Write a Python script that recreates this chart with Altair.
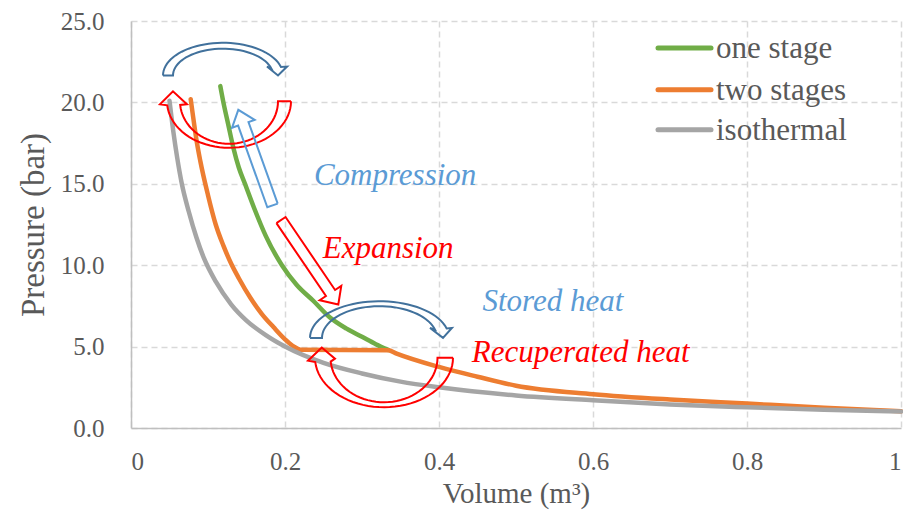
import altair as alt
import pandas as pd
import numpy as np

# ---------------- data ----------------
iso_v = [0.05, 0.055, 0.06, 0.066, 0.075, 0.085, 0.095, 0.11, 0.13, 0.15, 0.175, 0.2,
         0.25, 0.3, 0.35, 0.4, 0.5, 0.6, 0.7, 0.8, 0.9, 1.0]
iso_p = [20.1, 18.2, 16.6, 15.0, 13.3, 11.7, 10.4, 9.0, 7.6, 6.6, 5.7, 5.0,
         4.0, 3.35, 2.85, 2.5, 2.0, 1.7, 1.45, 1.27, 1.12, 1.02]

one_v = [0.116, 0.12, 0.126, 0.133, 0.14, 0.148, 0.16, 0.175, 0.196, 0.215, 0.237,
         0.258, 0.28, 0.3, 0.318, 0.334]
one_p = [21.0, 20.0, 18.7, 17.2, 16.0, 15.0, 13.5, 11.8, 10.0, 8.8, 7.8,
         6.8, 6.1, 5.6, 5.15, 4.8]

two_v = [0.0775, 0.08, 0.085, 0.09, 0.1, 0.11, 0.12, 0.13, 0.14, 0.155, 0.17,
         0.185, 0.2, 0.21, 0.222, 0.334, 0.345, 0.4, 0.45, 0.5, 0.6, 0.7, 0.8, 0.9, 1.0]
two_p = [20.2, 19.35, 17.7, 16.4, 14.3, 12.5, 11.2, 10.1, 9.2, 8.0, 7.0,
         6.2, 5.45, 5.05, 4.8, 4.78, 4.57, 3.75, 3.15, 2.6, 2.08, 1.75, 1.5, 1.25, 1.03]

series_names = ["one stage", "two stages", "isothermal"]
series_colors = ["#70AD47", "#ED7D31", "#A5A5A5"]

x_ticks = [0, 0.2, 0.4, 0.6, 0.8, 1.0]
y_ticks = [0, 5, 10, 15, 20, 25]

ann_text = ["Compression", "Expansion", "Stored heat", "Recuperated heat"]
ann_v = [0.343, 0.334, 0.548, 0.584]
ann_p = [15.45, 11.0, 7.72, 4.62]
ann_col = ["#5B9BD5", "#FF0000", "#5B9BD5", "#FF0000"]

FONT = "Liberation Serif"
TXT = "#595959"

rows = []
for name, vs, ps in [("one stage", one_v, one_p), ("two stages", two_v, two_p),
                     ("isothermal", iso_v, iso_p)]:
    for v, p in zip(vs, ps):
        rows.append({"series": name, "V": v, "P": p})
df = pd.DataFrame(rows)

# ---------------- annotation arrows (reference pixel geometry -> data units) ----------------
X0, Y0, WREF, HREF = 131, 428, 770, 411


def to_data(x, y):
    return (x - X0) / WREF, (Y0 - y) / HREF * 25


def ell(cx, cy, rx, ry, a):
    r = np.radians(a)
    return cx + rx * np.cos(r), cy - ry * np.sin(r)


def arc_arrow(cx, cy, ro, ri, a0, a1, wo, wi, tip):
    pts = []
    for a in np.linspace(a0, a1, 40):
        pts.append(ell(cx, cy, ro[0], ro[1], a))
    pts.append(ell(cx, cy, wo[0], wo[1], a1))
    pts.append(ell(cx, cy, tip[1], tip[2], tip[0]))
    pts.append(ell(cx, cy, wi[0], wi[1], a1))
    for a in np.linspace(a1, a0, 40):
        pts.append(ell(cx, cy, ri[0], ri[1], a))
    pts.append(pts[0])
    return pts


def block_arrow(tail, tip, sw, hw, hl):
    t = np.array(tail, float)
    e = np.array(tip, float)
    d = (e - t) / np.linalg.norm(e - t)
    n = np.array([-d[1], d[0]])
    b = e - d * hl
    pts = [t + n * sw / 2, b + n * sw / 2, b + n * hw / 2, e, b - n * hw / 2,
           b - n * sw / 2, t - n * sw / 2, t + n * sw / 2]
    return [tuple(p) for p in pts]


arrows = [
    ("a1", "#41719C", arc_arrow(223, 72, (60, 33), (50, 27), 180, 15,
                                (66.3, 34.7), (45.5, 34.7), (0, 55, 0))),
    ("a2", "#FF0000", arc_arrow(229, 98, (62, 47), (49, 43), 0, -175,
                                (69.3, 34.5), (42.2, 34.5), (-190, 56.9, 57.5))),
    ("a3", "#5B9BD5", block_arrow((272.5, 203.3), (238.3, 106.7), 11, 24, 15)),
    ("a4", "#FF0000", block_arrow((281, 218), (338.3, 303.3), 11, 26, 14)),
    ("a5", "#41719C", arc_arrow(379.5, 337, (69.5, 37), (57.5, 32), 180, 15,
                                (75, 38.6), (52.3, 38.6), (0, 63.5, 0))),
    ("a6", "#FF0000", arc_arrow(384, 357, (69, 50), (53.5, 45), 0, -175,
                                (76.3, 34.5), (49.2, 11.5), (-190, 63.2, 59))),
]
arows = []
for aid, col, pts in arrows:
    for i, (x, y) in enumerate(pts):
        v, p = to_data(x, y)
        arows.append({"id": aid, "col": col, "i": i, "V": v, "P": p})
adf = pd.DataFrame(arows)

tdf = pd.DataFrame({"t": ann_text, "V": ann_v, "P": ann_p, "col": ann_col})

# ---------------- chart ----------------
W, H = 770, 407
PAD_TOP = 13
xs = alt.Scale(domain=[0, 1], nice=False, zero=False)
ys = alt.Scale(domain=[0, 25], nice=False)

X = alt.X("V:Q", scale=xs, axis=alt.Axis(
    title="Volume (m³)", values=x_ticks, format="~g"))
Y = alt.Y("P:Q", scale=ys, axis=alt.Axis(
    title="Pressure (bar)", values=y_ticks, format=".1f"))

layers = []
for name, col in zip(series_names, series_colors):
    layers.append(
        alt.Chart(df).transform_filter(alt.datum.series == name)
        .mark_line(strokeWidth=4.5, strokeCap="round", strokeJoin="round",
                   interpolate="monotone", color=col)
        .encode(x=X, y=Y)
    )

# legend drawn as its own small layers (plot-relative pixels)
leg_y0 = 48 - 8 - PAD_TOP
leg_df = pd.DataFrame({
    "name": series_names,
    "col": series_colors,
    "ly": [leg_y0, leg_y0 + 41.7, leg_y0 + 81.7],
})
leg_lines = alt.Chart(leg_df).mark_rule(strokeWidth=5, strokeCap="round").encode(
    x=alt.value(658 - X0), x2=alt.value(711 - X0),
    y=alt.Y("ly:Q", scale=None),
    color=alt.Color("col:N", scale=None),
)
leg_text = alt.Chart(leg_df).mark_text(
    font=FONT, fontSize=31, align="left", baseline="middle", color=TXT, dy=1
).encode(
    x=alt.value(716 - X0),
    y=alt.Y("ly:Q", scale=None),
    text="name:N",
)

arrow_layer = alt.Chart(adf).mark_line(strokeWidth=2, strokeJoin="miter").encode(
    x=alt.X("V:Q", scale=xs),
    y=alt.Y("P:Q", scale=ys),
    detail="id:N",
    order=alt.Order("i:Q"),
    color=alt.Color("col:N", scale=None),
)

text_layer = alt.Chart(tdf).mark_text(
    font=FONT, fontSize=31, fontStyle="italic", align="center", baseline="middle"
).encode(
    x=alt.X("V:Q", scale=xs),
    y=alt.Y("P:Q", scale=ys),
    text="t:N",
    color=alt.Color("col:N", scale=None),
)

chart = alt.layer(*layers, arrow_layer, text_layer, leg_lines, leg_text).properties(
    width=W, height=H,
    autosize=alt.AutoSizeParams(type="none"),
    padding={"left": 123, "top": PAD_TOP, "right": 2, "bottom": 82},
).configure_view(stroke=None).configure_axis(
    labelFont=FONT, titleFont=FONT, labelColor=TXT, titleColor=TXT,
    labelFontSize=25, titleFontWeight="normal",
    grid=True, gridColor="#D9D9D9", gridDash=[6, 4], gridWidth=1.5,
    domainColor="#BFBFBF", domainWidth=1.5, ticks=False,
).configure_axisX(labelPadding=21, titlePadding=5, titleFontSize=29).configure_axisY(
    labelPadding=27, titlePadding=10, titleFontSize=33
)

chart.save("out.html", embed_options={"renderer": "svg", "actions": False})
